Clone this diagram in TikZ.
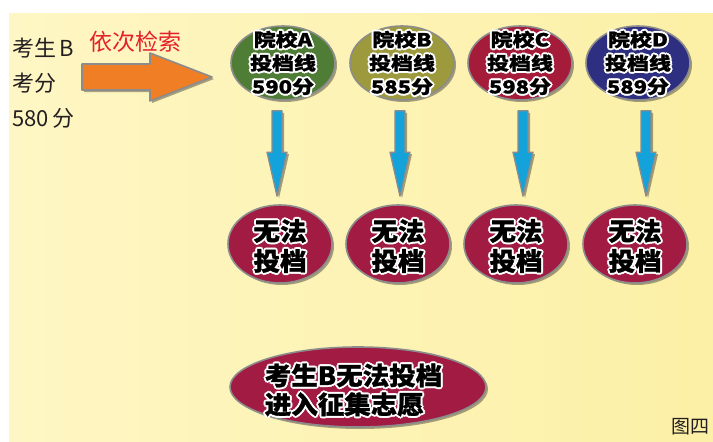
\documentclass[tikz,border=0pt]{standalone}
\usepackage{fontspec}
\usetikzlibrary{shapes.geometric,shadows,calc}
\newfontfamily\hei{Noto Sans CJK SC}
\newfontfamily\heiA{Noto Sans CJK SC}[FakeStretch=1.22, FakeBold=1.2]
\newfontfamily\heiB{Noto Sans CJK SC}[FakeStretch=1.06, FakeBold=1.2]
\definecolor{bgL}{HTML}{FEF6C4}
\definecolor{bgM}{HTML}{FFFEF6}
\definecolor{bgR}{HTML}{FCF0A6}
\definecolor{edge}{HTML}{8C8C8C}
\definecolor{cA}{HTML}{4F7D36}
\definecolor{cB}{HTML}{9C9A3C}
\definecolor{cC}{HTML}{A41C3A}
\definecolor{cD}{HTML}{2E2F80}
\definecolor{cBot}{HTML}{A11B43}
\definecolor{cBlue}{HTML}{13A2DA}
\definecolor{cOrange}{HTML}{F07E24}
\definecolor{cRed}{HTML}{E5202E}
\definecolor{txtdark}{HTML}{231F20}
\newcommand\olp[3]{\rlap{\kern#1\raisebox{#2}{\color{white}#3}}}
\newcommand\outl[1]{\leavevmode\olp{2pt}{0pt}{#1}\olp{-2pt}{0pt}{#1}\olp{0pt}{2pt}{#1}\olp{0pt}{-2pt}{#1}\olp{1.4pt}{1.4pt}{#1}\olp{-1.4pt}{1.4pt}{#1}\olp{1.4pt}{-1.4pt}{#1}\olp{-1.4pt}{-1.4pt}{#1}{\color{black}#1}}
\newcommand\varr[2]{\draw[bluearr] let \p1=(#1), \p2=(#2) in (\x1-5pt,\y1) -- (\x1+5pt,\y1) -- (\x1+5pt,\y2+44pt) -- (\x1+10pt,\y2+44pt) -- (\x1,\y2) -- (\x1-10pt,\y2+44pt) -- (\x1-5pt,\y2+44pt) -- cycle;}
\tikzset{
  shad/.style={drop shadow={shadow xshift=2pt, shadow yshift=-2pt, opacity=0.35, fill=black}},
  ell/.style={ellipse, draw=edge, line width=1.6pt, inner sep=0pt, shad},
  topell/.style={ell, minimum width=104pt, minimum height=74pt},
  botell/.style={ell, fill=cBot, minimum width=104pt, minimum height=78pt},
  toptxt/.style={align=center, inner sep=0pt, font=\heiA\bfseries\fontsize{18}{23.5}\selectfont},
  bottxt/.style={align=center, inner sep=0pt, yshift=-2pt, font=\heiB\bfseries\fontsize{25}{30}\selectfont},
  bigtxt/.style={align=left, inner sep=0pt, xshift=-4.5pt, yshift=-3pt, font=\heiB\bfseries\fontsize{25}{27}\selectfont},
  lefttxt/.style={anchor=west, inner sep=0pt, text=txtdark, font=\hei\fontsize{22}{26}\selectfont},
  bluearr/.style={fill=cBlue, draw=edge, line width=1.3pt, line join=round, shad},
  orgarr/.style={fill=cOrange, draw=edge, line width=1.6pt, line join=round, shad}
}
\begin{document}
\begin{tikzpicture}[x=1pt,y=-1pt]
\useasboundingbox (0,0) rectangle (713,442);
\fill[white] (0,0) rectangle (713,442);
\shade[left color=bgL, middle color=bgM, right color=bgR] (9,13) rectangle (713,442);

\node[lefttxt] (k1) at (12,48) {考生\,B};
\node[lefttxt] (k2) at (12,83) {考分};
\node[lefttxt] (k3) at (12,118) {580\,分};
\node[inner sep=0pt, text=cRed, font=\hei\fontsize{23}{26}\selectfont] (srch) at (135,42) {依次检索};

\draw[orgarr] (82,64) -- (150,64) -- (150,53) -- (212,77) -- (150,101) -- (150,90) -- (82,90) -- cycle;

\node[topell, fill=cA, label={[toptxt]center:{\outl{院校A}\\\outl{投档线}\\\outl{590分}}}] (ta) at (283,63) {};
\node[topell, fill=cB, label={[toptxt]center:{\outl{院校B}\\\outl{投档线}\\\outl{585分}}}] (tb) at (402,63) {};
\node[topell, fill=cC, label={[toptxt]center:{\outl{院校C}\\\outl{投档线}\\\outl{598分}}}] (tc) at (520,63) {};
\node[topell, fill=cD, label={[toptxt]center:{\outl{院校D}\\\outl{投档线}\\\outl{589分}}}] (td) at (638,63) {};

\node[botell, label={[bottxt]center:{\outl{无法}\\\outl{投档}}}] (ba) at (280,244) {};
\node[botell, label={[bottxt]center:{\outl{无法}\\\outl{投档}}}] (bb) at (398,244) {};
\node[botell, label={[bottxt]center:{\outl{无法}\\\outl{投档}}}] (bc) at (516,244) {};
\node[botell, label={[bottxt]center:{\outl{无法}\\\outl{投档}}}] (bd) at (635,244) {};

\varr{$(ta.south)+(-6,10)$}{$(ba.north)+(-3,-8)$}
\varr{$(tb.south)+(-2,10)$}{$(bb.north)+(2,-8)$}
\varr{$(tc.south)+(3,10)$}{$(bc.north)+(7,-8)$}
\varr{$(td.south)+(8,10)$}{$(bd.north)+(11,-8)$}

\node[ell, fill=cBot, minimum width=256pt, minimum height=80pt, label={[bigtxt]center:{\outl{考生B无法投档}\\\outl{进入征集志愿}}}] (fin) at (358,387) {};

\node[inner sep=0pt, text=txtdark, font=\hei\fontsize{19}{22}\selectfont] (fig) at (690,427) {图四};
\end{tikzpicture}
\end{document}
